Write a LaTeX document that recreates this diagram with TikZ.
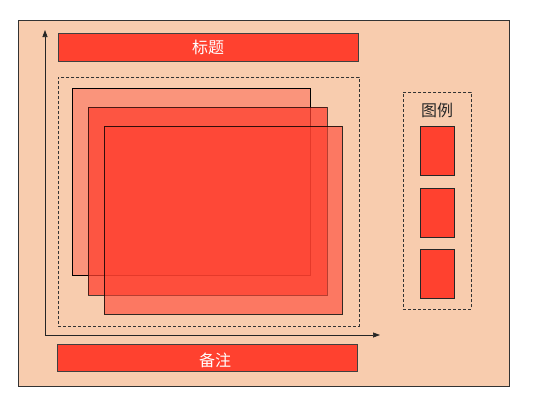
\documentclass[tikz,border=0pt]{standalone}
\usepackage{fontspec}
\newfontfamily\cjk{Noto Sans CJK SC}
\usetikzlibrary{arrows.meta}
\definecolor{peach}{HTML}{F8CCAE}
\definecolor{bred}{HTML}{FF4030}
\definecolor{lred}{HTML}{FF412F}
\tikzset{
  bar/.style={draw=black!75, line width=0.8bp, fill=lred},
  dbox/.style={draw=black!80, line width=0.7bp, dash pattern=on 3bp off 2bp},
  lrect/.style={draw=black!85, line width=0.8bp, fill=lred},
  axis/.style={draw=black!85, line width=0.7bp, -{Triangle[length=7bp,width=5bp]}},
  wlabel/.style={text=white, font=\cjk\fontsize{16bp}{16bp}\selectfont},
  dlabel/.style={text=black!85, font=\cjk\fontsize{16bp}{16bp}\selectfont},
}
\begin{document}
\begin{tikzpicture}[x=1bp,y=-1bp]
\useasboundingbox (0,0) rectangle (540,418);
\fill[white] (0,0) rectangle (540,418);
% frame
\path[fill=peach, draw=black!80, line width=0.8bp] (18,20) rectangle (509,386);
% axes
\coordinate (o) at (45,335);
\coordinate (ytop) at (45,30);
\coordinate (xend) at (380,335);
\draw[axis] (o) -- (ytop);
\draw[axis] (o) -- (xend);
% title and note bars
\node[bar, minimum width=300bp, minimum height=28bp, inner sep=0pt, anchor=north west] (title) at (58,33) {};
\node[wlabel] (titletext) at (208,47) {标题};
\node[bar, minimum width=300bp, minimum height=27bp, inner sep=0pt, anchor=north west] (note) at (57,344) {};
\node[wlabel] (notetext) at (215,360) {备注};
% dashed plot area
\node[dbox, minimum width=301bp, minimum height=249bp, inner sep=0pt, anchor=north west] (area) at (58,77) {};
% overlapping rectangles
\path[fill=bred, fill opacity=0.4, draw=black, line width=0.8bp] (72,88) rectangle (310,275);
\path[fill=bred, fill opacity=0.75, draw=black, draw opacity=0.7, line width=0.8bp] (88,107) rectangle (327,295);
\path[fill=bred, fill opacity=0.6, draw=black, draw opacity=0.8, line width=0.8bp] (104,126) rectangle (342,314);
% legend
\node[dbox, minimum width=68bp, minimum height=217bp, inner sep=0pt, anchor=north west] (legend) at (403,92) {};
\node[dlabel] (legendtext) at (437,110) {图例};
\node[lrect, minimum width=34bp, minimum height=49bp, inner sep=0pt, anchor=north west] (l1) at (420,126) {};
\node[lrect, minimum width=34bp, minimum height=49bp, inner sep=0pt, anchor=north west] (l2) at (420,188) {};
\node[lrect, minimum width=34bp, minimum height=49bp, inner sep=0pt, anchor=north west] (l3) at (420,249) {};
\end{tikzpicture}
\end{document}
